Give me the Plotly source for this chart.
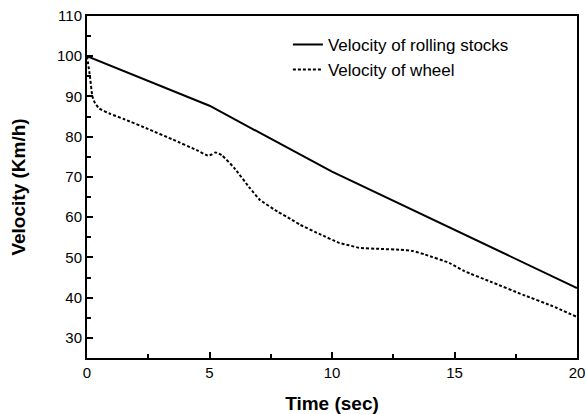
import plotly.graph_objects as go

# Data
t_stock = [0, 5, 10, 15, 20]
v_stock = [100, 87.7, 71.3, 56.9, 42.4]

t_wheel = [0, 0.12, 0.22, 0.33, 0.5, 0.94, 1.5, 2.5, 3.5, 4.5, 4.93, 5.1, 5.25, 5.5,
           6.0, 6.65, 7.06, 7.8, 8.3, 8.7, 9.5, 10.3, 10.7, 11.1, 12.0, 12.8, 13.3,
           13.8, 14.8, 15.4, 16.5, 17.8, 19.0, 20.0]
v_wheel = [100, 95, 90, 88.3, 87.0, 85.7, 84.4, 81.9, 79.3, 76.6, 75.3, 75.6, 76.1, 75.4,
           72.3, 67.2, 64.3, 61.3, 59.6, 58.1, 55.8, 53.6, 53.0, 52.4, 52.1, 51.9, 51.6,
           50.7, 48.6, 46.6, 43.9, 40.7, 37.9, 35.2]

names = ["Velocity of rolling stocks", "Velocity of wheel"]
x_title = "Time (sec)"
y_title = "Velocity (Km/h)"

FONT = "Liberation Sans, Arial, sans-serif"

fig = go.Figure()
fig.add_trace(go.Scatter(x=t_stock, y=v_stock, mode="lines", name=names[0],
                         line=dict(color="black", width=2)))
fig.add_trace(go.Scatter(x=t_wheel, y=v_wheel, mode="lines", name=names[1],
                         line=dict(color="black", width=2, dash="3px,2px", shape="spline", smoothing=0.4)))

axis_common = dict(
    showline=True, linecolor="black", linewidth=2, mirror=True,
    ticks="inside", ticklen=6, tickwidth=2, tickcolor="black",
    showgrid=False, zeroline=False, automargin=False,
    tickfont=dict(family=FONT, size=15, color="black"),
)

fig.update_xaxes(range=[0, 20], dtick=5, tick0=0,
                 minor=dict(dtick=2.5, ticks="inside", ticklen=4, tickwidth=2, tickcolor="black"),
                 title=dict(text=f"<b>{x_title}</b>", font=dict(family=FONT, size=19, color="black"), standoff=18),
                 **axis_common)
fig.update_yaxes(range=[25, 110], dtick=10, tick0=0,
                 minor=dict(dtick=5, ticks="inside", ticklen=4, tickwidth=2, tickcolor="black"),
                 title=dict(text=f"<b>{y_title}</b>", font=dict(family=FONT, size=19, color="black"), standoff=26),
                 **axis_common)

fig.update_layout(
    width=586, height=414,
    margin=dict(l=87, r=9, t=16, b=56),
    plot_bgcolor="white", paper_bgcolor="white",
    showlegend=True,
    legend=dict(x=0.41, y=0.968, xanchor="left", yanchor="top",
                bgcolor="rgba(0,0,0,0)", borderwidth=0,
                font=dict(family=FONT, size=17, color="black"),
                tracegroupgap=0),
)

fig.write_html("out.html")
